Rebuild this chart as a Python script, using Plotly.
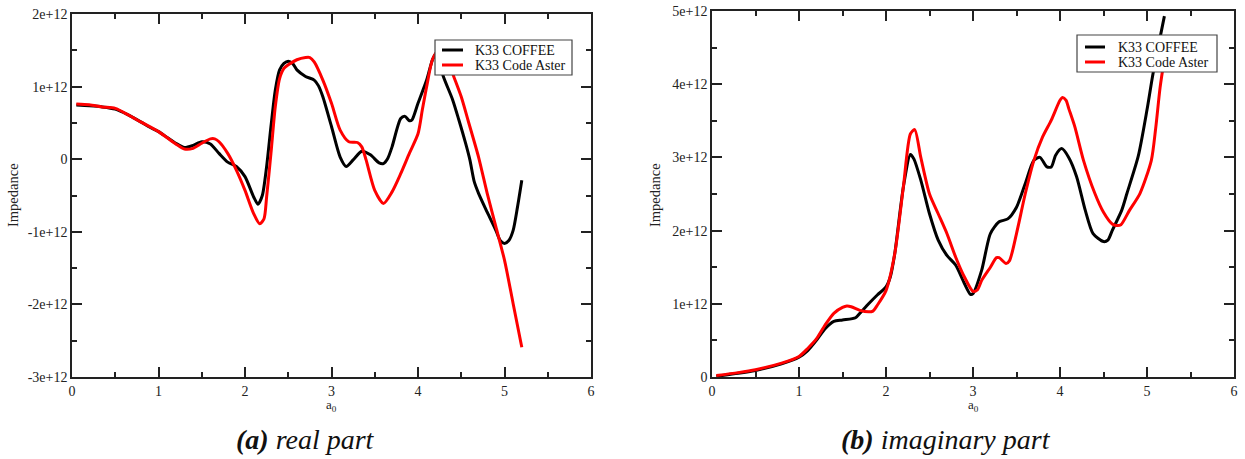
import plotly.graph_objects as go

# ---------------- data (impedance in units of 1e12) ----------------
re_coffee_x = [0.05, 0.2, 0.35, 0.5, 0.65, 0.8, 0.9, 1.0, 1.1, 1.2, 1.3, 1.4, 1.5, 1.6, 1.7, 1.8, 1.9,
               2.0, 2.1, 2.15, 2.2, 2.25, 2.3, 2.35, 2.4, 2.45, 2.5, 2.55, 2.6, 2.7, 2.8, 2.85, 2.9,
               3.0, 3.1, 3.17, 3.25, 3.35, 3.45, 3.55, 3.6, 3.65, 3.7, 3.8, 3.85, 3.9, 3.93,
               4.0, 4.1, 4.17, 4.22, 4.29, 4.4, 4.47, 4.55, 4.6, 4.65, 4.7, 4.8, 4.9, 4.95,
               5.0, 5.05, 5.1, 5.15, 5.2]
re_coffee_y = [0.745, 0.735, 0.72, 0.69, 0.61, 0.51, 0.44, 0.38, 0.30, 0.22, 0.16, 0.19, 0.24, 0.21, 0.08, -0.04, -0.10,
               -0.24, -0.52, -0.62, -0.50, -0.10, 0.45, 0.95, 1.23, 1.32, 1.35, 1.32, 1.23, 1.14, 1.09, 1.01, 0.86,
               0.45, 0.03, -0.10, -0.01, 0.11, 0.06, -0.05, -0.06, 0.01, 0.17, 0.56, 0.59, 0.53, 0.54,
               0.77, 1.09, 1.38, 1.47, 1.15, 0.82, 0.55, 0.22, -0.01, -0.31, -0.47, -0.73, -0.98, -1.12,
               -1.16, -1.12, -0.98, -0.66, -0.29]

re_aster_x = [0.05, 0.2, 0.35, 0.5, 0.65, 0.8, 1.0, 1.2, 1.3, 1.4, 1.5, 1.6, 1.65, 1.7, 1.8, 1.9,
              2.0, 2.1, 2.17, 2.22, 2.25, 2.3, 2.35, 2.4, 2.45, 2.5, 2.6, 2.7, 2.75, 2.8, 2.9,
              3.0, 3.1, 3.2, 3.3, 3.35, 3.4, 3.5, 3.6, 3.7, 3.8, 3.9,
              4.0, 4.05, 4.1, 4.17, 4.27, 4.35, 4.41, 4.5, 4.58, 4.7, 4.8, 4.9, 5.0, 5.1, 5.2]
re_aster_y = [0.76, 0.75, 0.72, 0.70, 0.61, 0.51, 0.38, 0.21, 0.14, 0.15, 0.22, 0.28, 0.28, 0.24, 0.08, -0.15,
              -0.43, -0.75, -0.89, -0.82, -0.52, 0.08, 0.72, 1.11, 1.25, 1.30, 1.37, 1.40, 1.40, 1.34, 1.09,
              0.77, 0.40, 0.24, 0.23, 0.17, -0.01, -0.43, -0.61, -0.45, -0.20, 0.08,
              0.35, 0.68, 1.00, 1.38, 1.55, 1.35, 1.15, 0.86, 0.53, 0.03, -0.47, -0.93, -1.39, -1.99, -2.59]

im_coffee_x = [0.05, 0.3, 0.5, 0.8, 1.0, 1.1, 1.2, 1.3, 1.4, 1.5, 1.65, 1.7, 1.8, 1.9,
               2.0, 2.05, 2.1, 2.2, 2.28, 2.32, 2.4, 2.5, 2.6, 2.7, 2.8, 2.9, 2.97,
               3.0, 3.1, 3.2, 3.3, 3.4, 3.5, 3.6, 3.7, 3.77, 3.85, 3.9, 3.95,
               4.02, 4.1, 4.19, 4.29, 4.38, 4.5, 4.55, 4.6, 4.71, 4.77, 4.9, 5.0, 5.07, 5.2]
im_coffee_y = [0.01, 0.05, 0.09, 0.18, 0.27, 0.36, 0.50, 0.66, 0.76, 0.78, 0.81, 0.87, 1.00, 1.12,
               1.23, 1.37, 1.68, 2.60, 3.04, 2.98, 2.69, 2.23, 1.87, 1.66, 1.53, 1.28, 1.13,
               1.14, 1.46, 1.96, 2.12, 2.16, 2.32, 2.64, 2.96, 3.00, 2.87, 2.87, 3.03,
               3.12, 3.00, 2.74, 2.28, 1.96, 1.85, 1.87, 2.00, 2.28, 2.51, 3.02, 3.65, 4.15, 4.93]

im_aster_x = [0.05, 0.3, 0.5, 0.8, 1.0, 1.1, 1.2, 1.3, 1.4, 1.5, 1.55, 1.6, 1.7, 1.8, 1.85, 1.9,
              2.0, 2.1, 2.2, 2.28, 2.33, 2.4, 2.5, 2.6, 2.7, 2.8, 2.9,
              3.0, 3.05, 3.1, 3.2, 3.27, 3.3, 3.38, 3.42, 3.5, 3.6, 3.7, 3.8, 3.9,
              4.0, 4.03, 4.07, 4.1, 4.17, 4.27, 4.4, 4.5, 4.6, 4.65, 4.7, 4.8, 4.92,
              5.05, 5.1, 5.15, 5.2]
im_aster_y = [0.02, 0.06, 0.10, 0.19, 0.28, 0.39, 0.52, 0.71, 0.87, 0.95, 0.97, 0.96, 0.91, 0.89, 0.90, 0.98,
              1.18, 1.68, 2.60, 3.32, 3.38, 3.00, 2.50, 2.23, 1.96, 1.64, 1.37,
              1.17, 1.19, 1.32, 1.50, 1.63, 1.63, 1.55, 1.59, 1.96, 2.50, 2.96, 3.28, 3.51,
              3.78, 3.82, 3.78, 3.67, 3.42, 2.96, 2.51, 2.25, 2.09, 2.07, 2.08, 2.28, 2.51,
              2.96, 3.40, 3.95, 4.35]

x_ticks = [0, 1, 2, 3, 4, 5, 6]
re_ytick_vals = [-3, -2, -1, 0, 1, 2]
re_ytick_text = ["-3e+12", "-2e+12", "-1e+12", "0", "1e+12", "2e+12"]
im_ytick_vals = [0, 1, 2, 3, 4, 5]
im_ytick_text = ["0", "1e+12", "2e+12", "3e+12", "4e+12", "5e+12"]

series_names = ["K33 COFFEE", "K33 Code Aster"]
series_colors = ["#000000", "#ff0000"]
captions = ["<b>(a)</b> real part", "<b>(b)</b> imaginary part"]

# ---------------- figure ----------------
W, H = 1245, 459
SERIF = "Liberation Serif"

fig = go.Figure()

line_kw = dict(shape="spline", smoothing=0.7, width=3)
panels = [
    ("x", "y", re_coffee_x, re_coffee_y, re_aster_x, re_aster_y),
    ("x2", "y2", im_coffee_x, im_coffee_y, im_aster_x, im_aster_y),
]
for xa, ya, cx, cy, ax, ay in panels:
    fig.add_trace(go.Scatter(x=cx, y=cy, mode="lines", name=series_names[0], showlegend=False,
                             line=dict(color=series_colors[0], **line_kw), xaxis=xa, yaxis=ya))
    fig.add_trace(go.Scatter(x=ax, y=ay, mode="lines", name=series_names[1], showlegend=False,
                             line=dict(color=series_colors[1], **line_kw), xaxis=xa, yaxis=ya))

def px_x(p):
    return p / W

def px_y(p):
    return 1 - p / H

minor_kw = dict(dtick=0.5, ticks="inside", ticklen=5, tickwidth=1.5, tickcolor="#222222")
axis_common = dict(
    showline=True, linecolor="#222222", linewidth=1.5, mirror="ticks",
    ticks="inside", ticklen=10, tickwidth=1.5, tickcolor="#222222",
    showgrid=False, zeroline=False, automargin=False,
    tickfont=dict(family=SERIF, size=14, color="#222222"),
    minor=minor_kw,
)

fig.update_layout(
    width=W, height=H,
    margin=dict(l=0, r=0, t=0, b=0, pad=0, autoexpand=False),
    paper_bgcolor="white", plot_bgcolor="white",
    showlegend=False,
    xaxis=dict(domain=[px_x(72), px_x(591)], range=[0, 6], tickvals=x_ticks, anchor="y", **axis_common),
    yaxis=dict(domain=[px_y(377), px_y(14)], range=[-3, 2], tickvals=re_ytick_vals,
               ticktext=re_ytick_text, anchor="x", **axis_common),
    xaxis2=dict(domain=[px_x(712), px_x(1234)], range=[0, 6], tickvals=x_ticks, anchor="y2", **axis_common),
    yaxis2=dict(domain=[px_y(377), px_y(11)], range=[0, 5], tickvals=im_ytick_vals,
                ticktext=im_ytick_text, anchor="x2", **axis_common),
)

# legend boxes (drawn as paper shapes + text so the row spacing matches)
shapes = []
annots = []
legend_boxes = [(435, 40, 572, 75, 442, 463, 473, 50, 65),
                (1077, 35, 1217, 72, 1085, 1105, 1116, 47, 62)]
for x0, y0, x1, y1, lx0, lx1, tx, r0, r1 in legend_boxes:
    shapes.append(dict(type="rect", xref="paper", yref="paper", x0=px_x(x0), x1=px_x(x1),
                       y0=px_y(y1), y1=px_y(y0), fillcolor="white",
                       line=dict(color="#444444", width=1.2), layer="above"))
    for name, color, ry in zip(series_names, series_colors, (r0, r1)):
        shapes.append(dict(type="line", xref="paper", yref="paper", x0=px_x(lx0), x1=px_x(lx1),
                           y0=px_y(ry), y1=px_y(ry), line=dict(color=color, width=3), layer="above"))
        annots.append(dict(text=name, x=px_x(tx), y=px_y(ry), xref="paper", yref="paper",
                           xanchor="left", yanchor="middle", showarrow=False,
                           font=dict(family=SERIF, size=14, color="#111111")))

for xp in (13, 655):
    annots.append(dict(text="Impedance", x=px_x(xp), y=px_y(195), xref="paper", yref="paper",
                       xanchor="center", yanchor="middle",
                       textangle=-90, showarrow=False, font=dict(family=SERIF, size=14.5, color="#222222")))
for xp in (331, 973):
    annots.append(dict(text="a<sub>0</sub>", x=px_x(xp), y=px_y(396), xref="paper", yref="paper",
                       xanchor="center", yanchor="top", showarrow=False, borderpad=0,
                       font=dict(family=SERIF, size=13, color="#222222")))
for cap, xp in zip(captions, (305, 946)):
    annots.append(dict(text="<i>" + cap + "</i>", x=px_x(xp), y=px_y(456), xref="paper", yref="paper",
                       xanchor="center", showarrow=False, borderpad=0,
                       font=dict(family=SERIF, size=28, color="#111111")))
fig.update_layout(shapes=shapes, annotations=annots)

fig.write_html("out.html",
               config={"displayModeBar": False},
               post_script="document.body.style.margin='0';document.body.style.padding='0';")
